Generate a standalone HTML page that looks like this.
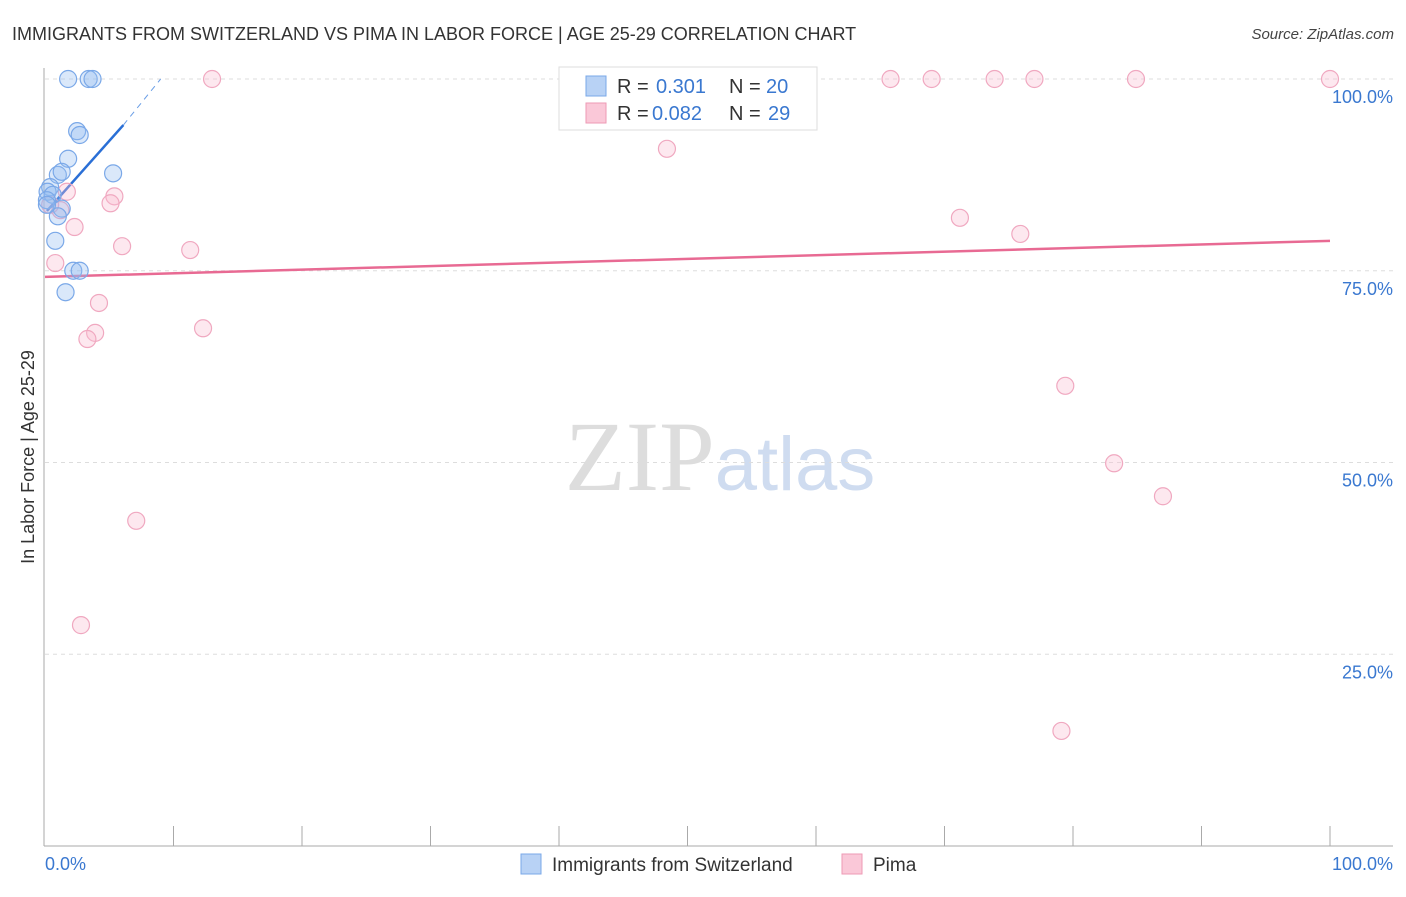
<!DOCTYPE html>
<html><head><meta charset="utf-8"><style>
body{margin:0;background:#fff;font-family:"Liberation Sans",sans-serif}
svg text{font-family:"Liberation Sans",sans-serif}
</style></head><body>
<svg id="chart" width="1406" height="892" xmlns="http://www.w3.org/2000/svg">
<text x="12" y="40" font-size="18" fill="#333">IMMIGRANTS FROM SWITZERLAND VS PIMA IN LABOR FORCE | AGE 25-29 CORRELATION CHART</text>
<text x="1394" y="39" font-size="15" fill="#444" text-anchor="end" font-style="italic">Source: ZipAtlas.com</text>
<text x="720" y="490" font-size="100" text-anchor="middle"><tspan fill="#ddd" font-family="Liberation Serif">ZIP</tspan><tspan fill="#cfdcf0" font-size="76">atlas</tspan></text>
<text transform="translate(34,457) rotate(-90)" font-size="18" fill="#333" text-anchor="middle">In Labor Force | Age 25-29</text>
<g id="grid"></g><g id="axes"></g><g id="trend"></g><g id="pts"></g>
<g>
<rect x="559" y="67" width="258" height="63" fill="#fff" stroke="#ddd"/>
<rect x="586" y="76" width="20" height="20" fill="#b8d2f5" stroke="#7aa8e8"/>
<rect x="586" y="103" width="20" height="20" fill="#fac8d8" stroke="#ee9ab5"/>
<text x="617" y="93" font-size="20" fill="#333">R =</text>
<text x="656" y="93" font-size="20" fill="#3a78d0">0.301</text>
<text x="729" y="93" font-size="20" fill="#333">N =</text>
<text x="766" y="93" font-size="20" fill="#3a78d0">20</text>
<text x="617" y="120" font-size="20" fill="#333">R =</text>
<text x="652" y="120" font-size="20" fill="#3a78d0">0.082</text>
<text x="729" y="120" font-size="20" fill="#333">N =</text>
<text x="768" y="120" font-size="20" fill="#3a78d0">29</text>
</g>
<g>
<rect x="521" y="854" width="20" height="20" fill="#b8d2f5" stroke="#7aa8e8"/>
<text x="552" y="871" font-size="19" fill="#333">Immigrants from Switzerland</text>
<rect x="842" y="854" width="20" height="20" fill="#fac8d8" stroke="#ee9ab5"/>
<text x="873" y="871" font-size="19" fill="#333">Pima</text>
</g>
</svg>
<script>
const blueX=[1.8,3.4,3.7,2.5,2.7,1.8,1.0,1.3,5.3,0.4,0.2,0.6,0.15,1.3,1.0,0.8,2.2,2.7,1.6,0.15];
const blueY=[100,100,100,93.2,92.7,89.6,87.5,87.9,87.7,85.9,85.3,84.9,84.2,83.1,82.1,78.9,75.0,75.0,72.2,83.6];
const pinkX=[13.0,65.8,69.0,73.9,77.0,84.9,100,48.4,71.2,75.9,79.4,83.2,87.0,79.1,1.7,5.4,5.1,1.2,2.3,6.0,11.3,0.8,4.2,3.9,3.3,12.3,7.1,2.8,0.4];
const pinkY=[100,100,100,100,100,100,100,90.9,81.9,79.8,60.0,49.9,45.6,15.0,85.3,84.7,83.8,82.9,80.7,78.2,77.7,76.0,70.8,66.9,66.1,67.5,42.4,28.8,83.6];
const yTicks=[25,50,75,100];
const yTickLabels=["25.0%","50.0%","75.0%","100.0%"];
const xTickCount=10;
const blueTrend=[0.15,82.8,6.1,94.0,9.0,100];
const pinkTrend=[0,74.2,100,78.9];
const X=v=>45+v*12.85, Y=v=>846-v*7.67;
const NS="http://www.w3.org/2000/svg";
function mk(t,a,p){const e=document.createElementNS(NS,t);for(const k in a)e.setAttribute(k,a[k]);p.appendChild(e);return e;}
const grid=document.getElementById('grid'),axes=document.getElementById('axes'),trend=document.getElementById('trend'),pts=document.getElementById('pts');
yTicks.forEach((t,i)=>{
 const l=mk('line',{x1:45,x2:1393,y1:Y(t),y2:Y(t),stroke:'#ddd','stroke-dasharray':'4,4'},grid);
 
 
 const tx=mk('text',{x:1393,y:Y(t)+24,'font-size':18,fill:'#3a78d0','text-anchor':'end'},axes);
 tx.textContent=yTickLabels[i];
 
 
});
const ax=mk('line',{x1:44,x2:44,y1:68,y2:846,stroke:'#aaa'},axes);


const bx=mk('line',{x1:44,x2:1393,y1:846,y2:846,stroke:'#aaa'},axes);


for(let i=1;i<=xTickCount;i++){
 const t=mk('line',{x1:X(i*10),x2:X(i*10),y1:826,y2:846,stroke:'#aaa'},axes);
 
 
}
[["0.0%",45,'start'],["100.0%",1393,'end']].forEach(a=>{
 const t=mk('text',{x:a[1],y:870,'font-size':18,fill:'#3a78d0','text-anchor':a[2]},axes);t.textContent=a[0];
 
 
});
const pl=mk('line',{x1:X(pinkTrend[0]),y1:Y(pinkTrend[1]),x2:X(pinkTrend[2]),y2:Y(pinkTrend[3]),stroke:'#e86a93','stroke-width':2.5},trend);


pinkX.forEach((x,i)=>{
 const c=mk('circle',{cx:X(x),cy:Y(pinkY[i]),r:8.5,fill:'rgba(248,190,208,0.35)',stroke:'#f0a8c0','stroke-width':1.2},pts);
 
 
});
blueX.forEach((x,i)=>{
 const c=mk('circle',{cx:X(x),cy:Y(blueY[i]),r:8.5,fill:'rgba(150,188,240,0.35)',stroke:'#7aa8e8','stroke-width':1.2},pts);
 
 
});
const bl=mk('line',{x1:X(blueTrend[0]),y1:Y(blueTrend[1]),x2:X(blueTrend[2]),y2:Y(blueTrend[3]),stroke:'#2a6fd6','stroke-width':2.5},trend);


const bd=mk('line',{x1:X(blueTrend[2]),y1:Y(blueTrend[3]),x2:X(blueTrend[4]),y2:Y(blueTrend[5]),stroke:'#6a9ee6','stroke-width':1,'stroke-dasharray':'6,5'},trend);


</script>
</body></html>
